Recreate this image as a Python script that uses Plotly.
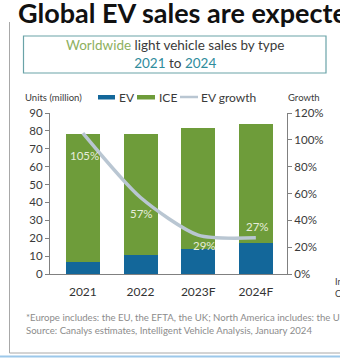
import plotly.graph_objects as go

# Worldwide light vehicle sales (million units) and EV growth rate
years = ["2021", "2022", "2023F", "2024F"]
ev_sales = [6.5, 10.6, 14.0, 17.3]
ice_sales = [71.5, 67.7, 67.4, 66.5]
ev_growth = [105, 57, 29, 27]
growth_labels = ["105%", "57%", "29%", "27%"]
label_shift = [(2, -22), (1, -16), (6, -10), (2, 11)]

EV_BLUE = "#13679a"
ICE_GREEN = "#6e9c3a"
LINE_GREY = "#b9c6d2"
TEXT = "#3a3a3a"

W, H = 340, 362
L, R, T, B = 50, 53, 113, 88
PW, PH = W - L - R, H - T - B


def px(x):
    return (x - L) / PW


def py(y):
    return (H - B - y) / PH


fig = go.Figure()
fig.add_bar(x=years, y=ev_sales, name="EV", marker_color=EV_BLUE,
            marker_line_width=0, width=0.59)
fig.add_bar(x=years, y=ice_sales, name="ICE", marker_color=ICE_GREEN,
            marker_line_width=0, width=0.59)
fig.add_scatter(x=years, y=ev_growth, name="EV growth", yaxis="y2",
                mode="lines", line=dict(color=LINE_GREY, width=3.5,
                                        shape="spline", smoothing=0.7))

annotations = []
for i, (g, lab, (dx, dy)) in enumerate(zip(ev_growth, growth_labels, label_shift)):
    annotations.append(dict(x=i, y=g, xref="x", yref="y2", text=lab,
                            showarrow=False, xshift=dx, yshift=dy,
                            font=dict(size=11.5, color="#e6eddc", family="Lato")))


def note(x, y, text, size, color=TEXT, anchor="left"):
    return dict(x=px(x), y=py(y), xref="paper", yref="paper", xanchor=anchor,
                yanchor="middle", showarrow=False, text=text, align="center",
                font=dict(size=size, color=color, family="Lato"))


# Title, boxed subtitle, legend row and footnotes
annotations += [
    note(16, 13, "<b>Global EV sales are expected to grow</b>", 27, "#111111"),
    note(175, 54,
         "<span style='color:#8db05e'>Worldwide</span> light vehicle sales by type<br>"
         "<span style='color:#2f8c9c'>2021</span> to "
         "<span style='color:#2f8c9c'>2024</span>", 13.5, "#3a3a3a", "center"),
    note(23, 98, "Units (million)", 9.5),
    note(117, 97, "EV", 12),
    note(157, 97, "ICE", 12),
    note(199, 97, "EV growth", 12),
    note(304, 98, "Growth", 9.5, TEXT, "center"),
    note(333, 281, "In", 9),
    note(333, 293, "C", 9),
    note(24, 317,
         "*Europe includes: the EU, the EFTA, the UK; North America includes: the US, Canada",
         9.6, "#8c8c8c"),
    note(24, 330,
         "Source: Canalys estimates, Intelligent Vehicle Analysis, January 2024",
         9.6, "#8c8c8c"),
]

shapes = [
    # outer frame
    dict(type="line", xref="paper", yref="paper", x0=px(9.5), x1=px(345),
         y0=py(353), y1=py(353), line=dict(color="#a8a8a8", width=1)),
    dict(type="line", xref="paper", yref="paper", x0=px(9.5), x1=px(9.5),
         y0=py(22), y1=py(353), line=dict(color="#a8a8a8", width=1)),
    dict(type="line", xref="paper", yref="paper", x0=px(0), x1=px(345),
         y0=py(356.5), y1=py(356.5), line=dict(color="#9cc8ea", width=2)),
    # subtitle box
    dict(type="rect", xref="paper", yref="paper", x0=px(23.5), x1=px(326),
         y0=py(36), y1=py(73), line=dict(color="#6aa3a8", width=1.2)),
    # legend keys
    dict(type="rect", xref="paper", yref="paper", x0=px(98), x1=px(115),
         y0=py(95), y1=py(99.5), fillcolor=EV_BLUE, line_width=0),
    dict(type="rect", xref="paper", yref="paper", x0=px(137), x1=px(155),
         y0=py(95), y1=py(99.5), fillcolor=ICE_GREEN, line_width=0),
    dict(type="line", xref="paper", yref="paper", x0=px(180), x1=px(198),
         y0=py(97), y1=py(97), line=dict(color=LINE_GREY, width=2.5)),
]

fig.update_layout(
    width=W, height=H, margin=dict(l=L, r=R, t=T, b=B),
    paper_bgcolor="white", plot_bgcolor="white",
    barmode="stack", showlegend=False,
    font=dict(family="Lato", color=TEXT),
    xaxis=dict(type="category", range=[-0.57, 3.54], showgrid=False,
               showline=True, linecolor="#808080", linewidth=1, ticks="",
               tickfont=dict(size=12, color="#333333"), ticklabelstandoff=7),
    yaxis=dict(range=[0, 90], dtick=10, showgrid=False, zeroline=False,
               showline=True, linecolor="#808080", linewidth=1,
               ticks="outside", ticklen=4, tickcolor="#808080",
               tickfont=dict(size=11.5, color=TEXT)),
    yaxis2=dict(range=[0, 120], dtick=20, overlaying="y", side="right",
                showgrid=False, zeroline=False, showline=True,
                linecolor="#808080", linewidth=1, ticks="outside", ticklen=4,
                tickcolor="#808080", ticksuffix="%",
                tickfont=dict(size=11.5, color=TEXT)),
    annotations=annotations, shapes=shapes,
)

fig.write_html("out.html")
